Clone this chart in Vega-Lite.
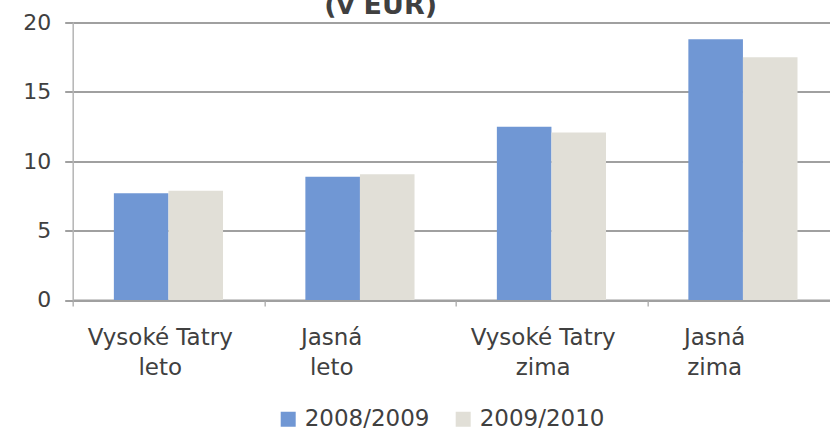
{
  "$schema": "https://vega.github.io/schema/vega-lite/v6.json",
  "width": 758,
  "height": 277.5,
  "autosize": {"type": "none"},
  "padding": {"left": 72.7, "top": 22.5, "right": 0, "bottom": 130},
  "background": "white",
  "title": {
    "text": "(v EUR)",
    "font": "DejaVu Sans",
    "fontSize": 27,
    "fontWeight": "bold",
    "color": "#404040",
    "anchor": "middle",
    "frame": "group",
    "baseline": "alphabetic",
    "dx": -71,
    "dy": 29,
    "offset": 0
  },
  "data": {
    "values": [
      {"place": "Vysoké Tatry leto", "season": "2008/2009", "value": 7.69},
      {"place": "Vysoké Tatry leto", "season": "2009/2010", "value": 7.88},
      {"place": "Jasná leto", "season": "2008/2009", "value": 8.89},
      {"place": "Jasná leto", "season": "2009/2010", "value": 9.06},
      {"place": "Vysoké Tatry zima", "season": "2008/2009", "value": 12.49},
      {"place": "Vysoké Tatry zima", "season": "2009/2010", "value": 12.08},
      {"place": "Jasná zima", "season": "2008/2009", "value": 18.79},
      {"place": "Jasná zima", "season": "2009/2010", "value": 17.49}
    ]
  },
  "mark": {"type": "bar"},
  "encoding": {
    "x": {
      "field": "place",
      "type": "nominal",
      "sort": null,
      "scale": {"range": [0, 766], "paddingInner": 0.43, "paddingOuter": 0.215},
      "axis": {
        "title": null,
        "labelAngle": 0,
        "labelFont": "DejaVu Sans",
        "labelFontSize": 23,
        "labelColor": "#404040",
        "labelLineHeight": 30,
        "labelPadding": 21,
        "labelExpr": "[slice(datum.label, 0, lastindexof(datum.label, ' ')), slice(datum.label, lastindexof(datum.label, ' ') + 1)]",
        "domainColor": "#a0a0a0",
        "domainWidth": 2,
        "tickColor": "#b4b4b4",
        "tickWidth": 1.5,
        "tickSize": 6,
        "tickOffset": -95.75,
        "labelOffset": {"condition": {"test": "indexof(datum.value, 'Jasná') == 0", "value": 67}, "value": 87}
      }
    },
    "xOffset": {
      "field": "season",
      "type": "nominal",
      "sort": null,
      "scale": {"paddingInner": 0, "paddingOuter": 0}
    },
    "y": {
      "field": "value",
      "type": "quantitative",
      "scale": {"domain": [0, 20], "nice": false},
      "axis": {
        "title": null,
        "values": [0, 5, 10, 15, 20],
        "grid": true,
        "gridColor": "#a0a0a0",
        "gridWidth": 2,
        "tickColor": "#a0a0a0",
        "tickWidth": 2,
        "tickSize": 8,
        "domainColor": "#b4b4b4",
        "domainWidth": 1.5,
        "labelFont": "DejaVu Sans",
        "labelFontSize": 22,
        "labelColor": "#404040",
        "labelPadding": 14
      }
    },
    "color": {
      "field": "season",
      "type": "nominal",
      "sort": null,
      "scale": {"range": ["#7097d4", "#e1dfd7"]},
      "legend": {
        "title": null,
        "orient": "none",
        "direction": "horizontal",
        "legendX": 204,
        "legendY": 385,
        "symbolType": "square",
        "symbolSize": 225,
        "symbolStrokeWidth": 0,
        "labelFont": "DejaVu Sans",
        "labelFontSize": 23,
        "labelColor": "#404040",
        "labelOffset": 5,
        "columnPadding": 22
      }
    }
  },
  "config": {"view": {"stroke": null}}
}
